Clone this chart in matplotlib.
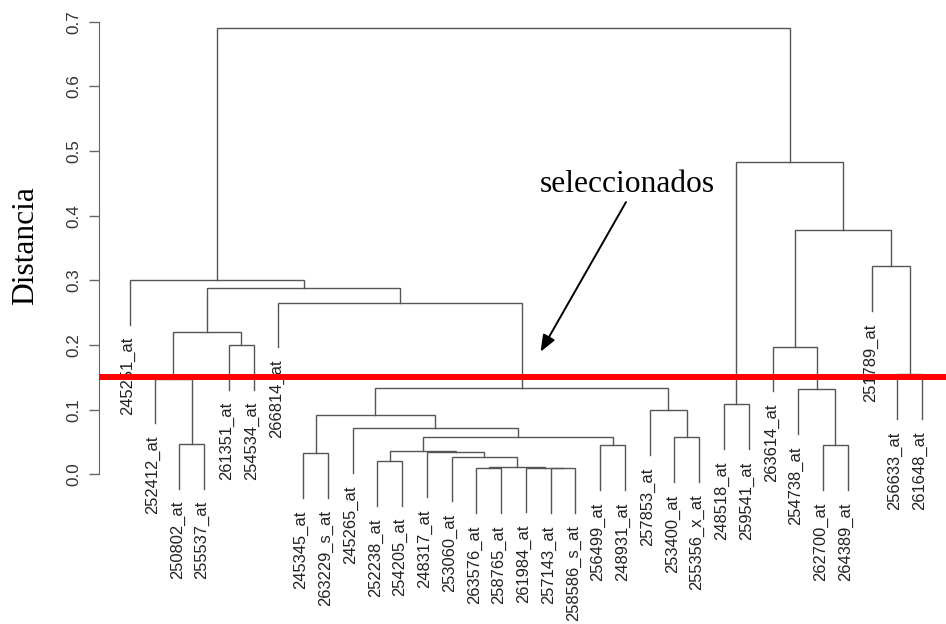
import matplotlib.pyplot as plt

# leaf order as drawn, left to right
leaves = [
    "245251_at", "252412_at", "250802_at", "255537_at", "261351_at",
    "254534_at", "266814_at", "245345_at", "263229_s_at", "245265_at",
    "252238_at", "254205_at", "248317_at", "253060_at", "263576_at",
    "258765_at", "261984_at", "257143_at", "258586_s_at", "256499_at",
    "248931_at", "257853_at", "253400_at", "255356_x_at", "248518_at",
    "259541_at", "263614_at", "254738_at", "262700_at", "264389_at",
    "251789_at", "256633_at", "261648_at",
]

# merges: (left, right, height); ids < 33 are leaves, 33 + k is merge k
merge_left = [14, 17, 16, 33, 10, 13, 12, 37, 7, 19, 28, 2, 40, 22, 9, 41,
              21, 24, 27, 48, 1, 31, 26, 4, 53, 6, 57, 0, 30, 55, 50, 60]
merge_right = [15, 18, 34, 35, 11, 36, 38, 39, 8, 20, 29, 3, 42, 23, 45, 47,
               46, 25, 43, 49, 44, 32, 51, 5, 56, 52, 58, 59, 54, 61, 62, 63]
merge_height = [0.0093, 0.0093, 0.0102, 0.0118, 0.0206, 0.0272, 0.0340, 0.0360,
                0.0325, 0.0449, 0.0453, 0.0469, 0.0581, 0.0572, 0.0711, 0.0917,
                0.0994, 0.1083, 0.1315, 0.1330, 0.1480, 0.1551, 0.1973, 0.2000,
                0.2201, 0.2654, 0.2881, 0.3005, 0.3221, 0.3778, 0.4830, 0.6898]

hang = 0.069
cut_height = 0.15
y_ticks = [0.0, 0.1, 0.2, 0.3, 0.4, 0.5, 0.6, 0.7]

# annotation arrow (data coords)
arrow_tail = (20.04, 0.421)
arrow_tip = (16.59, 0.1896)

line_col = "#555555"
sans = "Liberation Sans"
serif = "Liberation Serif"

fig = plt.figure(figsize=(9.46, 6.24), dpi=100)
ax = fig.add_axes([0.10497, 0.1466, 0.89503, 0.83942])

n = len(leaves)
xpos = {i: float(i) for i in range(n)}
ytop = {}
for k, (a, b, h) in enumerate(zip(merge_left, merge_right, merge_height)):
    xa, xb = xpos[a], xpos[b]
    ya = ytop.get(a, h - hang)
    yb = ytop.get(b, h - hang)
    ax.plot([xa, xa, xb, xb], [ya, h, h, yb], color=line_col, lw=1.0,
            solid_joinstyle="miter", zorder=2)
    for c in (a, b):
        if c < n:
            ax.annotate(leaves[c], (xpos[c], h - hang), xytext=(-1.7, -9.0),
                        textcoords="offset points", rotation=90,
                        ha="center", va="top", fontsize=11.9,
                        family=sans, color="#222222")
    xpos[n + k] = (xa + xb) / 2
    ytop[n + k] = h

ax.axhline(cut_height, color="#ff0000", lw=4.3, zorder=5)

ax.set_xlim(-1.24, 32.97)
ax.set_ylim(-0.09, 0.72)
for side in ("top", "right", "bottom"):
    ax.spines[side].set_visible(False)
ax.spines["left"].set_bounds(0, 0.7)
ax.spines["left"].set_color("#666666")
ax.set_xticks([])
ax.set_yticks(y_ticks)
ax.set_yticklabels([f"{t:.1f}" for t in y_ticks], family=sans, fontsize=12.3,
                   color="#333333")
ax.tick_params(axis="y", length=7.2, width=1, color="#666666", pad=5.9,
               labelrotation=90)
for lab in ax.get_yticklabels():
    lab.set_va("center")
    lab.set_ha("right")

ax.annotate("", xy=arrow_tip, xytext=arrow_tail,
            arrowprops=dict(arrowstyle="-|>,head_length=0.5,head_width=0.2",
                            color="black", lw=1.4, mutation_scale=20,
                            shrinkA=0, shrinkB=0))

fig.text(627 / 946, (624 - 191.7) / 624, "seleccionados", ha="center",
         va="baseline", fontsize=22.7, family=serif)
fig.text(33.3 / 946, (624 - 246) / 624, "Distancia", rotation=90,
         rotation_mode="anchor", ha="center", va="baseline",
         fontsize=22.7, family=serif)

fig.savefig("out.png", dpi=100)
